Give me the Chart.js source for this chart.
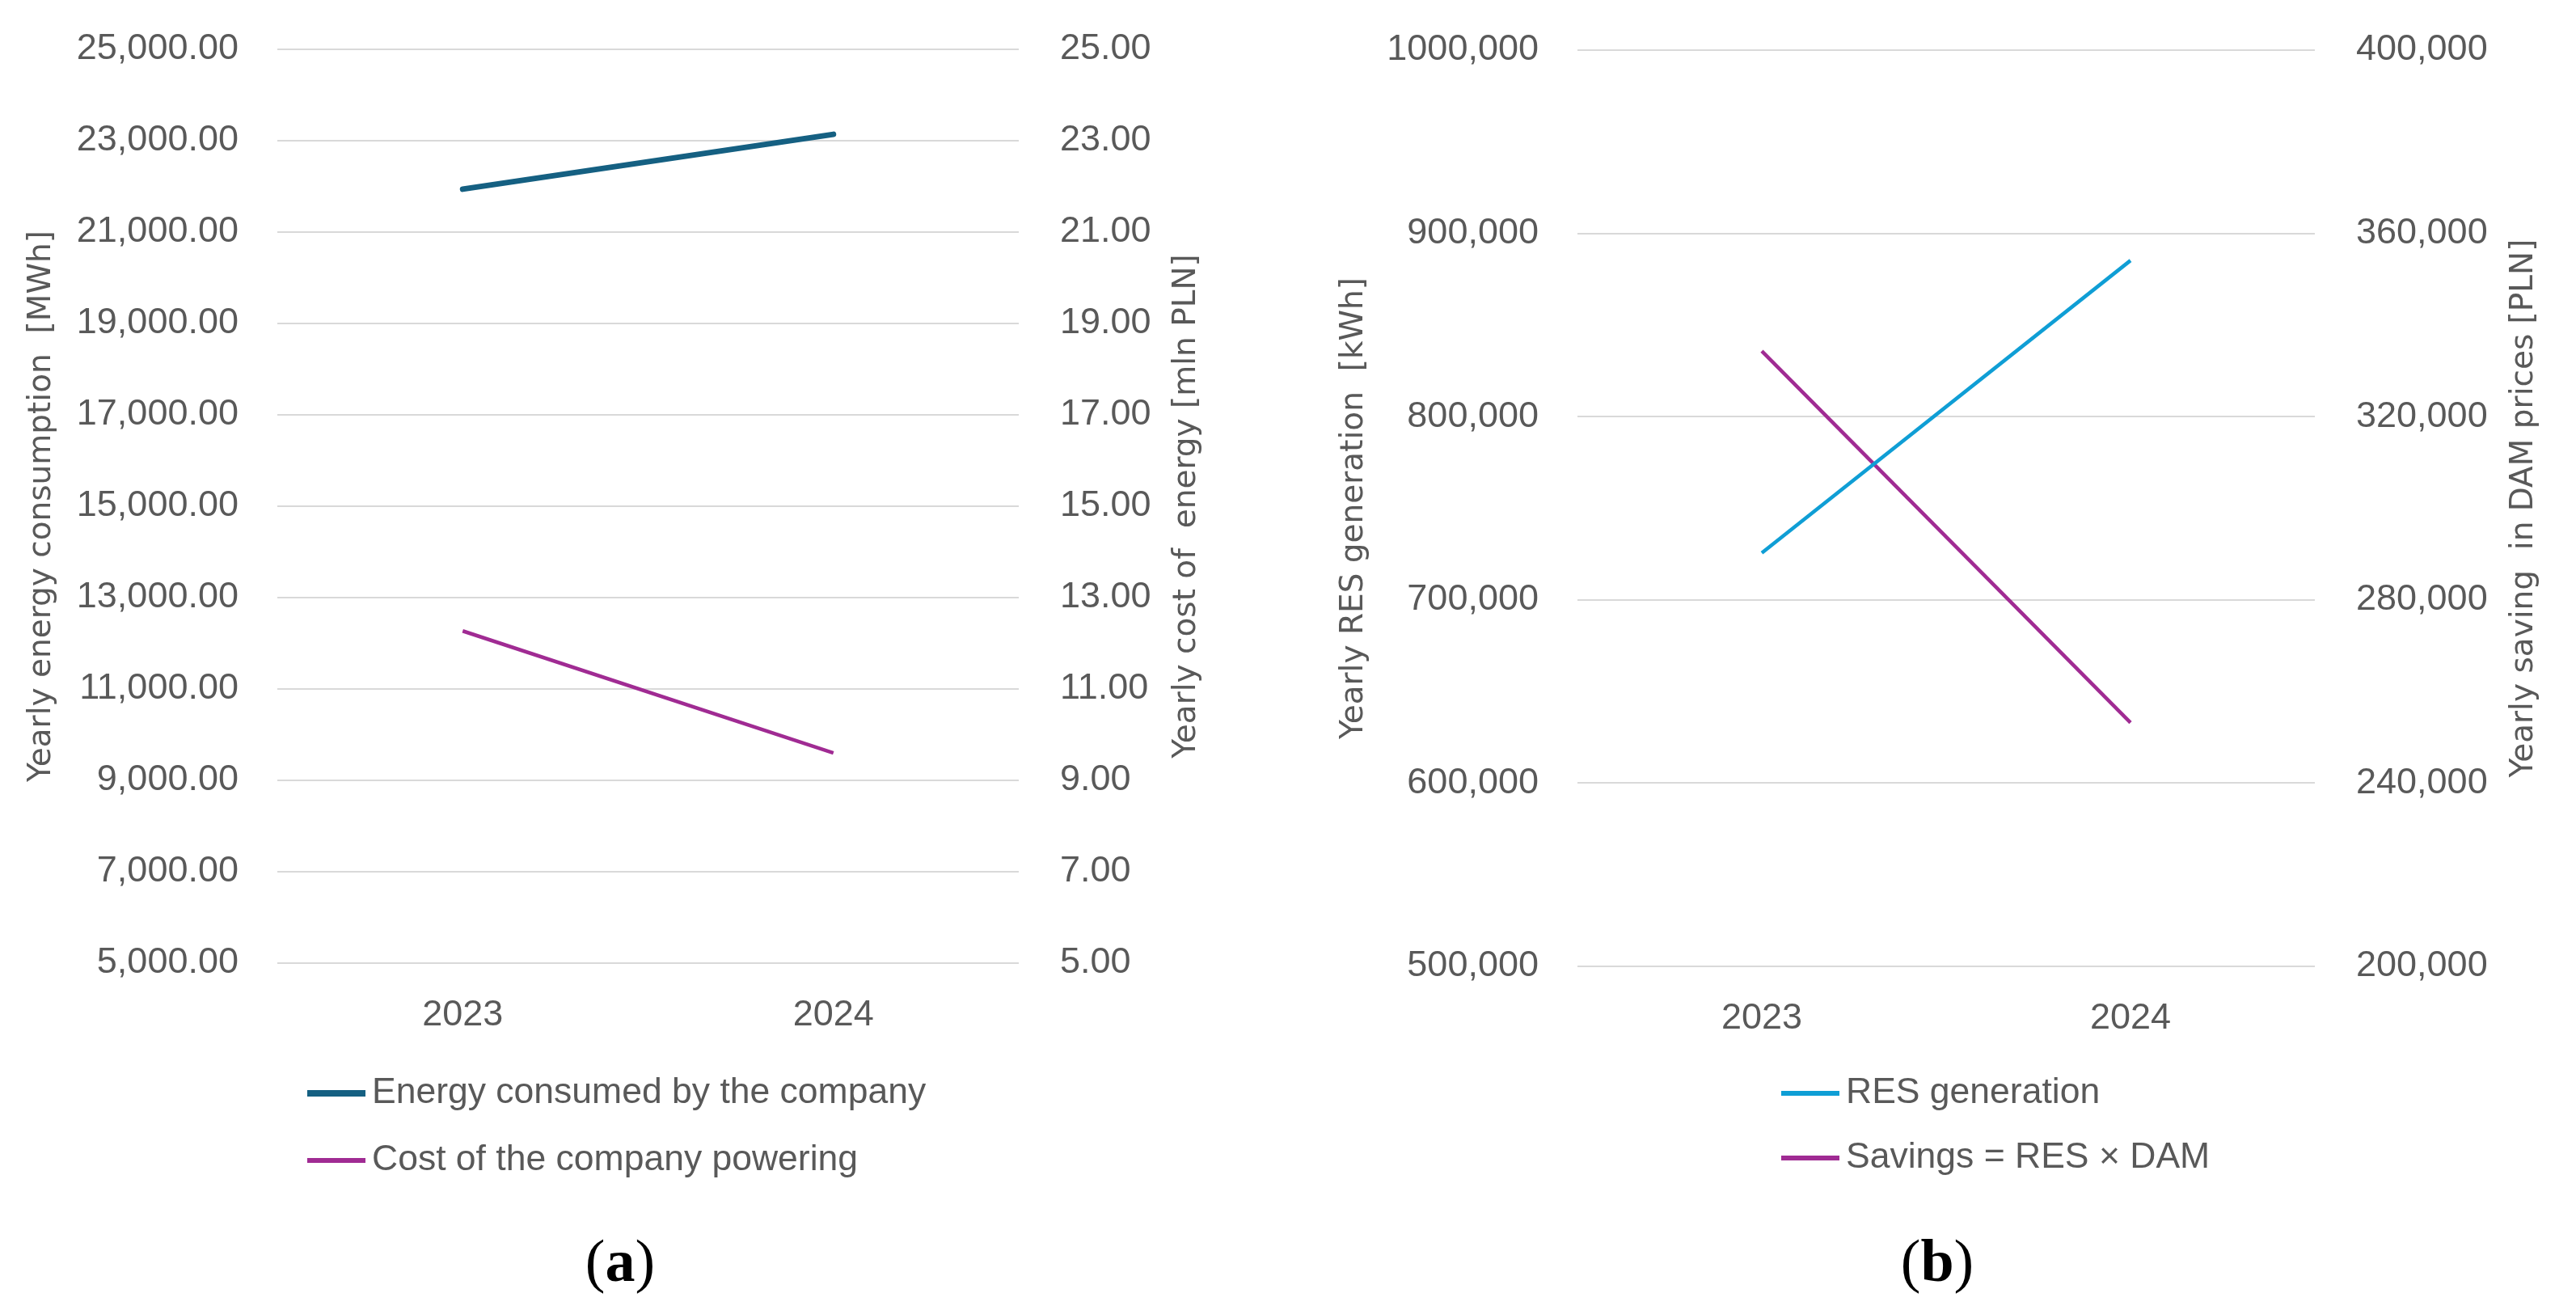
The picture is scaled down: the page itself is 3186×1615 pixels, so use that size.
<!DOCTYPE html>
<html>
<head>
<meta charset="utf-8">
<script src="https://cdn.jsdelivr.net/npm/chart.js@4.4.1/dist/chart.umd.min.js"></script>
<style>
  html, body { margin: 0; padding: 0; background: #fff; }
  body { width: 3186px; height: 1615px; position: relative; overflow: hidden; }
  .panel { position: absolute; top: 0; width: 1593px; height: 1500px; }
  .cap { position: absolute; font-family: "Liberation Serif", serif; font-size: 74px; line-height: 1;
         color: #000; transform: translate(-50%, -50%); white-space: nowrap; }
</style>
</head>
<body>
<div class="panel" style="left:0"><canvas id="chartA"></canvas></div>
<div class="panel" style="left:1593px"><canvas id="chartB"></canvas></div>
<div class="cap" style="left:767px;top:1559px">(<b>a</b>)</div>
<div class="cap" style="left:2396px;top:1559px">(<b>b</b>)</div>
<script>
// data
const years = ["2023", "2024"];
const energyMWh = [21940, 23140];
const costMlnPLN = [12.27, 9.60];
const resKWh = [725600, 885200];
const savingsPLN = [334300, 253200];

const grey = "#595959";
const tickFont = { family: "Liberation Sans", size: 45 };
const titleFont = { family: "DejaVu Sans", size: 39 };

Chart.defaults.font.family = "Liberation Sans";
Chart.defaults.color = grey;

const fmt2 = v => v.toLocaleString("en-US", { minimumFractionDigits: 2, maximumFractionDigits: 2 });
const fmtK = v => Math.floor(v / 1000) + "," + String(v % 1000).padStart(3, "0");

// right-hand axis title (reads bottom to top) and the stacked legend
const extras = {
  id: "extras",
  afterDraw(chart, args, opts) {
    const ctx = chart.ctx;
    const area = chart.chartArea;
    ctx.save();
    ctx.fillStyle = grey;
    ctx.font = titleFont.size + "px '" + titleFont.family + "'";
    ctx.textAlign = "center";
    ctx.textBaseline = "middle";
    ctx.translate(opts.rightTitleX, (area.top + area.bottom) / 2);
    ctx.rotate(-Math.PI / 2);
    ctx.fillText(opts.rightTitle, 0, 0);
    ctx.restore();

    ctx.save();
    ctx.font = "44.5px 'Liberation Sans'";
    ctx.textAlign = "left";
    ctx.textBaseline = "middle";
    chart.data.datasets.forEach((ds, i) => {
      const y = opts.legendY[i];
      ctx.strokeStyle = ds.borderColor;
      ctx.lineWidth = opts.legendLine[i];
      ctx.beginPath();
      ctx.moveTo(opts.legendX, y);
      ctx.lineTo(opts.legendX + 72, y);
      ctx.stroke();
      ctx.fillStyle = grey;
      ctx.fillText(ds.label, opts.legendX + 80, y);
    });
    ctx.restore();
  }
};

function makeChart(id, cfg) {
  const noPad = s => { s.paddingTop = 0; s.paddingBottom = 0; };
  return new Chart(document.getElementById(id), {
    type: "line",
    data: {
      labels: years,
      datasets: cfg.datasets
    },
    options: {
      responsive: true,
      maintainAspectRatio: false,
      animation: false,
      layout: { padding: { top: cfg.top, bottom: 200, left: 0, right: 0 } },
      plugins: {
        legend: { display: false },
        tooltip: { enabled: false },
        extras: cfg.extras
      },
      elements: { point: { radius: 0 }, line: { tension: 0 } },
      scales: {
        x: {
          offset: true,
          grid: { display: false, drawTicks: false },
          border: { display: false },
          ticks: { padding: 38, font: tickFont, color: grey },
          afterFit(s) { s.height = 1500 - 200 - cfg.bottom; }
        },
        y: {
          position: "left",
          min: cfg.y.min, max: cfg.y.max,
          grid: { color: "#d9d9d9", lineWidth: 2, drawTicks: false },
          border: { display: false },
          ticks: { stepSize: cfg.y.step, padding: 48, font: tickFont, color: grey, callback: cfg.y.fmt },
          title: { display: true, text: cfg.y.title, color: grey, font: titleFont,
                   padding: { top: cfg.y.titlePad, bottom: 0 } },
          afterFit(s) { s.width = cfg.left; noPad(s); }
        },
        y1: {
          position: "right",
          min: cfg.y1.min, max: cfg.y1.max,
          grid: { display: false, drawTicks: false },
          border: { display: false },
          ticks: { stepSize: cfg.y1.step, padding: 51, font: tickFont, color: grey, callback: cfg.y1.fmt },
          afterFit(s) { s.width = 1593 - cfg.right; noPad(s); }
        }
      }
    },
    plugins: [extras]
  });
}

makeChart("chartA", {
  top: 61, bottom: 1191, left: 343, right: 1260,
  datasets: [
    { label: "Energy consumed by the company", data: energyMWh, yAxisID: "y",
      borderColor: "#156082", borderWidth: 7, borderCapStyle: "round" },
    { label: "Cost of the company powering", data: costMlnPLN, yAxisID: "y1",
      borderColor: "#A02B93", borderWidth: 4.5 }
  ],
  y: { min: 5000, max: 25000, step: 2000, fmt: fmt2, title: "Yearly energy consumption  [MWh]", titlePad: 28 },
  y1: { min: 5, max: 25, step: 2, fmt: v => v.toFixed(2) },
  extras: { rightTitle: "Yearly cost of  energy [mln PLN]", rightTitleX: 1468,
            legendX: 380, legendY: [1352, 1435], legendLine: [8, 6] }
});

makeChart("chartB", {
  top: 62, bottom: 1195, left: 358, right: 1270,
  datasets: [
    { label: "RES generation", data: resKWh, yAxisID: "y",
      borderColor: "#0F9ED5", borderWidth: 4.5 },
    { label: "Savings = RES \u00d7 DAM", data: savingsPLN, yAxisID: "y1",
      borderColor: "#A02B93", borderWidth: 4.5 }
  ],
  y: { min: 500000, max: 1000000, step: 100000, fmt: fmtK, title: "Yearly RES generation  [kWh]", titlePad: 58 },
  y1: { min: 200000, max: 400000, step: 40000, fmt: fmtK },
  extras: { rightTitle: "Yearly saving  in DAM prices [PLN]", rightTitleX: 1529,
            legendX: 610, legendY: [1352, 1432], legendLine: [6, 6] }
});
</script>
</body>
</html>
